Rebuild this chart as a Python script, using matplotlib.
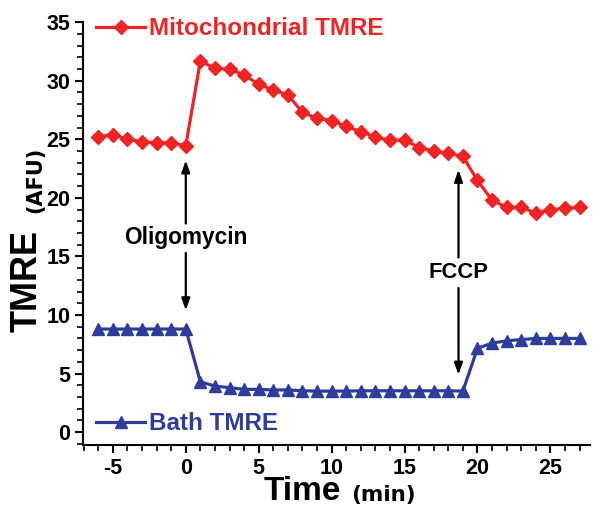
import matplotlib
matplotlib.use("Agg")
import matplotlib.pyplot as plt
from matplotlib.lines import Line2D
from matplotlib.ticker import MultipleLocator

plt.rcParams['font.family'] = ['Liberation Sans', 'DejaVu Sans']
plt.rcParams['font.weight'] = 'bold'
plt.rcParams['axes.unicode_minus'] = False

time_min = list(range(-6, 28))
mito_tmre = [25.2, 25.4, 25.0, 24.8, 24.7, 24.7, 24.45,
             31.7, 31.05, 31.0, 30.5, 29.7, 29.2, 28.8, 27.3, 26.8, 26.6,
             26.1, 25.65, 25.2, 24.9, 24.95, 24.3, 24.0, 23.8, 23.55,
             21.5, 19.8, 19.2, 19.2, 18.7, 19.0, 19.1, 19.2]
bath_tmre = [8.8, 8.8, 8.8, 8.8, 8.8, 8.8, 8.8,
             4.3, 3.93, 3.8, 3.65, 3.65, 3.6, 3.6, 3.53, 3.5, 3.5,
             3.5, 3.53, 3.53, 3.53, 3.53, 3.53, 3.53, 3.53, 3.5,
             7.15, 7.6, 7.8, 7.9, 8.0, 8.0, 8.0, 8.0]

red = '#ee2324'
blue = '#2e3d9c'

fig = plt.figure(figsize=(6.03, 5.22), dpi=100)
ax = fig.add_axes([0.1376, 0.1475, 0.8404, 0.810])

ax.plot(time_min, mito_tmre, color=red, lw=2.3, marker='D', ms=7, mec=red, mfc=red)
ax.plot(time_min, bath_tmre, color=blue, lw=2.3, marker='^', ms=8.5, mec=blue, mfc=blue)

ax.set_xlim(-7.05, 27.7)
ax.set_ylim(-1.1, 35)
ax.xaxis.set_major_locator(MultipleLocator(5))
ax.xaxis.set_minor_locator(MultipleLocator(1))
ax.yaxis.set_major_locator(MultipleLocator(5))
ax.yaxis.set_minor_locator(MultipleLocator(1))
for s in ['top', 'right']:
    ax.spines[s].set_visible(False)
for s in ['left', 'bottom']:
    ax.spines[s].set_linewidth(1.5)
ax.tick_params(which='major', length=6, width=1.5, labelsize=15.5, pad=3)
ax.tick_params(which='minor', length=4, width=1.2)
for lab in ax.get_xticklabels() + ax.get_yticklabels():
    lab.set_fontweight('bold')

# axis labels
fig.text(0.045, 0.462, 'TMRE', rotation=90, fontsize=26, fontweight='bold', ha='center', va='center')
fig.text(0.058, 0.655, '(AFU)', rotation=90, fontsize=15, fontweight='bold', ha='center', va='center',
         family=['DejaVu Sans'])
fig.text(0.438, 0.058, 'Time', fontsize=24, fontweight='bold', ha='left', va='center')
fig.text(0.583, 0.052, '(min)', fontsize=15.5, fontweight='bold', ha='left', va='center',
         family=['DejaVu Sans'])

# legends
h1 = Line2D([], [], color=red, lw=2.3, marker='D', ms=7)
h2 = Line2D([], [], color=blue, lw=2.3, marker='^', ms=8.5)
leg1 = ax.legend([h1], ['Mitochondrial TMRE'], loc='center left', bbox_to_anchor=(0.0, 0.985),
                 frameon=False, handlelength=2.0, handletextpad=0.15, borderpad=0, borderaxespad=0.55,
                 prop=dict(size=17.5, weight='bold'), labelcolor=red)
ax.add_artist(leg1)
ax.legend([h2], ['Bath TMRE'], loc='center left', bbox_to_anchor=(0.0, 0.05),
          frameon=False, handlelength=2.0, handletextpad=0.15, borderpad=0, borderaxespad=0.55,
          prop=dict(size=17.5, weight='bold'), labelcolor=blue)

# annotations
aprops = dict(arrowstyle='-|>,head_length=0.7,head_width=0.25', lw=1.6, color='black', shrinkA=0, shrinkB=0)
ax.text(0, 16.6, 'Oligomycin', fontsize=16.3, fontweight='bold', ha='center', va='center')
ax.annotate('', xy=(0, 23.2), xytext=(0, 17.8), arrowprops=aprops)
ax.annotate('', xy=(0, 10.4), xytext=(0, 15.3), arrowprops=aprops)
ax.text(18.7, 13.66, 'FCCP', fontsize=15.8, fontweight='bold', ha='center', va='center')
ax.annotate('', xy=(18.7, 22.4), xytext=(18.7, 14.9), arrowprops=aprops)
ax.annotate('', xy=(18.7, 4.9), xytext=(18.7, 12.3), arrowprops=aprops)

fig.savefig('out.png', dpi=100)
